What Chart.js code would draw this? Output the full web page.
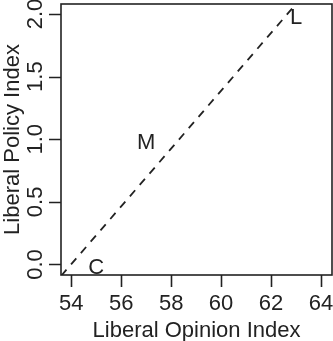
<!DOCTYPE html>
<html>
<head>
<meta charset="utf-8">
<script src="https://cdn.jsdelivr.net/npm/chart.js@4"></script>
<style>
  html, body { margin: 0; padding: 0; background: #fff; }
  #wrap { width: 333px; height: 341px; }
</style>
</head>
<body>
<div id="wrap"><canvas id="c" width="333" height="341"></canvas></div>
<script>
const xTicks = [54, 56, 58, 60, 62, 64];
const yTicks = [0, 0.5, 1, 1.5, 2];
const yTickLabels = ["0.0", "0.5", "1.0", "1.5", "2.0"];
const pointLabels = ["C", "M", "L"];
const opinion = [55, 57, 63];
const policy = [0, 1, 2];
// fitted line, ends
const fitX = [53.6, 63.0];
const fitY = [-0.09, 2.08];

const ink = "#222";
const font = "22px 'Liberation Sans', Arial, sans-serif";

const frame = {
  id: "frame",
  afterDraw(chart) {
    const { ctx, chartArea: a, scales: { x, y } } = chart;
    ctx.save();
    ctx.strokeStyle = ink;
    ctx.fillStyle = ink;
    ctx.lineWidth = 1.6;
    ctx.strokeRect(a.left, a.top, a.right - a.left, a.bottom - a.top);

    ctx.font = font;
    // x axis
    ctx.beginPath();
    xTicks.forEach(v => {
      const px = Math.round(x.getPixelForValue(v)) + 0.5;
      ctx.moveTo(px, a.bottom);
      ctx.lineTo(px, a.bottom + 12);
    });
    ctx.stroke();
    ctx.textAlign = "center";
    ctx.textBaseline = "alphabetic";
    xTicks.forEach(v => ctx.fillText(String(v), x.getPixelForValue(v), 310));
    ctx.fillText("Liberal Opinion Index", (a.left + a.right) / 2, 337);

    // y axis
    ctx.beginPath();
    yTicks.forEach(v => {
      const py = Math.round(y.getPixelForValue(v)) + 0.5;
      ctx.moveTo(a.left, py);
      ctx.lineTo(a.left - 12, py);
    });
    ctx.stroke();
    yTicks.forEach((v, i) => {
      ctx.save();
      ctx.translate(42, y.getPixelForValue(v));
      ctx.rotate(-Math.PI / 2);
      ctx.fillText(yTickLabels[i], 0, 0);
      ctx.restore();
    });
    ctx.save();
    ctx.translate(19, (a.top + a.bottom) / 2);
    ctx.rotate(-Math.PI / 2);
    ctx.fillText("Liberal Policy Index", 0, 0);
    ctx.restore();

    // point labels
    pointLabels.forEach((t, i) => {
      ctx.fillText(t, x.getPixelForValue(opinion[i]), y.getPixelForValue(policy[i]) + 10);
    });
    ctx.restore();
  }
};

new Chart(document.getElementById("c"), {
  type: "scatter",
  data: {
    datasets: [
      {
        data: fitX.map((v, i) => ({ x: v, y: fitY[i] })),
        showLine: true,
        borderColor: ink,
        borderWidth: 1.8,
        borderDash: [8, 7],
        pointRadius: 0
      },
      {
        data: opinion.map((v, i) => ({ x: v, y: policy[i] })),
        pointRadius: 0
      }
    ]
  },
  options: {
    responsive: false,
    animation: false,
    layout: { padding: { left: 61, top: 4, right: 1, bottom: 66 } },
    scales: {
      x: { type: "linear", display: false, min: 53.59, max: 64.44 },
      y: { type: "linear", display: false, min: -0.084, max: 2.08 }
    },
    plugins: { legend: { display: false }, tooltip: { enabled: false } }
  },
  plugins: [frame]
});
</script>
</body>
</html>
